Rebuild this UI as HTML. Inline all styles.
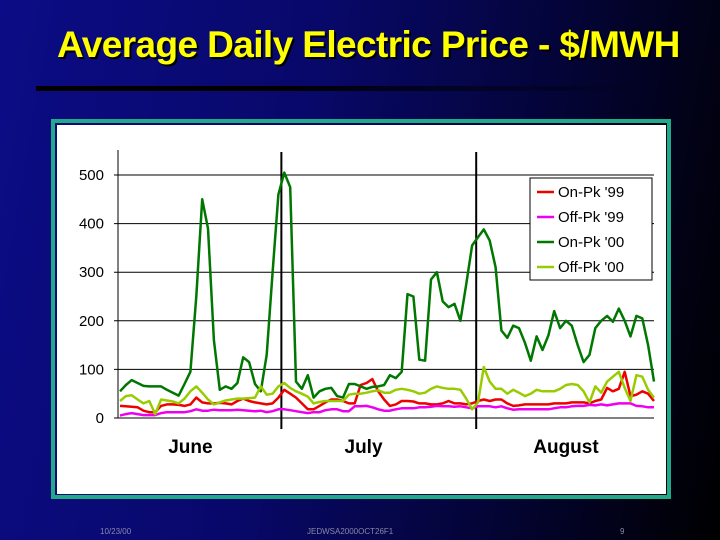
<!DOCTYPE html>
<html><head><meta charset="utf-8"><style>
html,body{margin:0;padding:0}
body{width:720px;height:540px;overflow:hidden;background:linear-gradient(100deg,#0c0c86 0%,#08086a 40%,#040438 70%,#000 100%);font-family:"Liberation Sans",sans-serif;position:relative}
#title{position:absolute;left:57px;top:24px;font-size:37px;font-weight:bold;color:#ffff00;text-shadow:2px 2px 0 #000;white-space:nowrap;letter-spacing:-0.6px}
#rule{position:absolute;left:36px;top:86px;width:610px;height:5px;background:linear-gradient(90deg,#000 0%,#000 40%,rgba(0,0,0,0) 100%)}
.ft{position:absolute;top:527px;font-size:8px;color:#8888aa}
</style></head><body>
<div id="title">Average Daily Electric Price - $/MWH</div>
<div id="rule"></div>
<svg id="chart" width="720" height="540" style="position:absolute;left:0;top:0" font-family="Liberation Sans, sans-serif"></svg>
<div class="ft" style="left:100px">10/23/00</div>
<div class="ft" style="left:307px">JEDWSA2000OCT26F1</div>
<div class="ft" style="left:620px">9</div>
<script>
const yTicks=[0,100,200,300,400,500];
const months=["June","July","August"];
const monthCenters=[12,41.5,76];
const monthDividers=[27.5,60.7];
const seriesNames=["On-Pk '99","Off-Pk '99","On-Pk '00","Off-Pk '00"];
const onPk99=[25,24,23,22,15,12,12,25,28,28,27,25,28,42,32,30,30,31,30,28,35,40,35,32,30,28,30,42,58,50,42,30,18,18,25,32,38,38,35,30,30,68,72,80,55,38,25,28,35,35,34,30,30,28,28,30,35,30,30,28,30,35,38,35,38,38,30,25,26,28,28,28,28,28,30,30,30,32,32,32,30,35,38,62,55,60,95,45,48,55,50,35];
const offPk99=[5,8,10,8,6,6,6,10,12,12,12,12,14,18,15,15,17,16,16,16,17,16,15,14,15,12,14,18,18,16,14,12,10,12,12,16,18,18,14,14,24,24,25,22,18,15,15,18,20,20,20,22,22,23,25,24,24,23,24,22,20,24,24,24,22,24,20,17,18,18,18,18,18,18,20,22,22,24,25,25,27,26,28,26,28,30,30,30,25,24,22,22];
const onPk00=[55,68,78,72,66,65,65,65,58,52,46,70,95,250,450,390,160,58,65,60,72,125,115,70,55,130,300,460,505,475,75,60,88,42,55,60,62,45,42,70,70,65,60,64,65,68,88,82,95,255,250,120,118,285,300,240,228,235,200,275,355,372,388,365,310,180,165,190,185,155,118,168,140,170,220,185,200,190,150,115,130,185,200,210,198,225,200,168,210,205,150,75];
const offPk00=[35,45,47,38,30,35,8,38,36,34,30,40,55,65,52,38,28,32,36,38,40,40,41,42,65,48,50,65,72,62,55,50,44,30,33,35,35,35,35,48,50,50,52,55,57,52,52,58,60,58,55,50,52,60,65,62,60,60,58,40,18,32,105,75,60,60,50,58,52,45,50,58,55,55,55,60,68,70,68,55,32,65,52,75,85,95,62,35,88,85,58,42];
const seriesData=[onPk99,offPk99,onPk00,offPk00];
const seriesColors=["#ee0000","#ee00ee","#007700","#99cc00"];

const NS="http://www.w3.org/2000/svg";
const svg=document.getElementById('chart');
function mk(t,a){const e=document.createElementNS(NS,t);for(const k in a)e.setAttribute(k,a[k]);svg.appendChild(e);return e;}
const X0=120,X1=654,Y0=418,Y1=175,N=92,YMAX=500;
function xs(i){return X0+i*(X1-X0)/(N-1);}
function ys(v){return Y0-v*(Y0-Y1)/YMAX;}

let e;
e=mk('rect',{x:53,y:121,width:616,height:376,fill:'none',stroke:'#22aa88','stroke-width':4});


e=mk('rect',{x:57,y:125,width:609,height:369,fill:'#ffffff'});


e=mk('line',{x1:X0-2,y1:150,x2:X0-2,y2:Y0,stroke:'#000','stroke-width':1});


yTicks.forEach(t=>{
  const g=mk('line',{x1:X0-6,y1:ys(t),x2:X1,y2:ys(t),stroke:'#000','stroke-width':1});
  
  
  const l=mk('text',{x:104,y:ys(t)+5,'text-anchor':'end','font-size':15,fill:'#000'});
  l.textContent=t;
  
  
});
monthDividers.forEach((d,k)=>{
  const l=mk('line',{x1:xs(d),y1:152,x2:xs(d),y2:429,stroke:'#000','stroke-width':2});
  
  
});
months.forEach((m,k)=>{
  const t=mk('text',{x:xs(monthCenters[k]),y:453,'text-anchor':'middle','font-size':19,'font-weight':'bold',fill:'#000'});
  t.textContent=m;
  
  
});
seriesData.forEach((arr,s)=>{
  const pts=arr.map((v,i)=>xs(i).toFixed(1)+','+ys(v).toFixed(1)).join(' ');
  const p=mk('polyline',{points:pts,fill:'none',stroke:seriesColors[s],'stroke-width':2.5,'stroke-linejoin':'round'});
  
  
});
e=mk('rect',{x:530,y:178,width:122,height:102,fill:'#fff',stroke:'#000','stroke-width':1});


seriesNames.forEach((n,s)=>{
  const y=192+s*25;
  const l=mk('line',{x1:537,y1:y,x2:554,y2:y,stroke:seriesColors[s],'stroke-width':2.5});
  
  
  const t=mk('text',{x:558,y:y+5,'font-size':15,fill:'#000'});
  t.textContent=n;
  
  
});
</script>
</body></html>
